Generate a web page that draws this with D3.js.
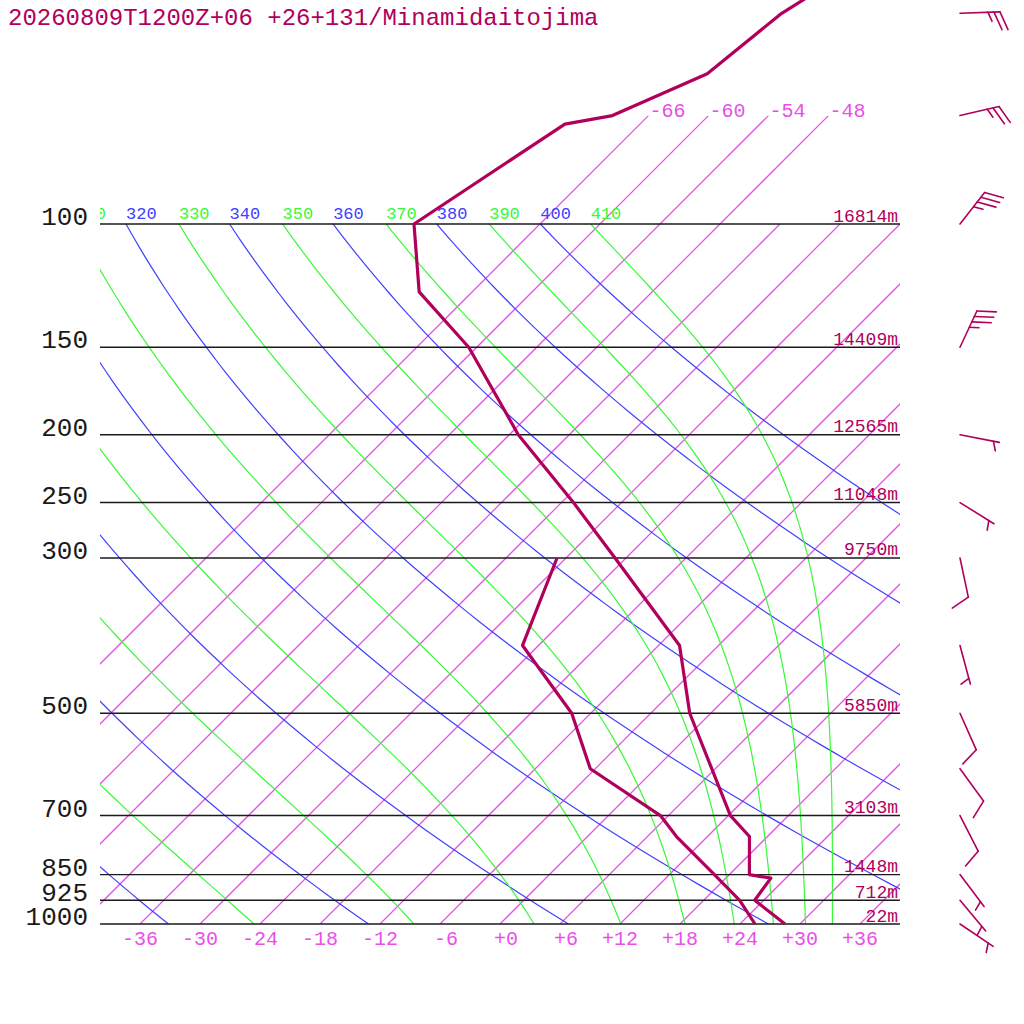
<!DOCTYPE html>
<html>
<head>
<meta charset="utf-8">
<script src="https://cdn.jsdelivr.net/npm/d3@7"></script>
<style>
  body { margin: 0; background: #fff; }
  svg { display: block; }
  text { font-family: "Liberation Mono", "DejaVu Sans Mono", monospace; }
</style>
</head>
<body>
<svg id="chart" width="1024" height="1024"></svg>
<script>
const title = "20260809T1200Z+06 +26+131/Minamidaitojima";

const tempLevels = [1000, 925, 860, 850, 750, 700, 500, 400, 300, 250, 200, 150, 125, 100, 72, 70, 61, 50, 40];
const temps      = [28.5, 23.1, 22.5, 20.0, 16.2, 12.2, -2.1, -9.9, -25.1, -34.8, -47.1, -60.8, -71.3, -78.6, -73.5, -69.6, -64.3, -62.9, -58.8];

const dewLevels  = [1000, 925, 850, 750, 700, 600, 500, 400, 300];
const dewpoints  = [25.5, 21.6, 16.5, 8.9, 5.2, -6.5, -13.9, -25.6, -30.9];

const isobars    = [1000, 925, 850, 700, 500, 300, 250, 200, 150, 100];
const heights    = ["22m", "712m", "1448m", "3103m", "5850m", "9750m", "11048m", "12565m", "14409m", "16814m"];

const isotherms     = [-66, -60, -54, -48, -42, -36, -30, -24, -18, -12, -6, 0, 6, 12, 18, 24, 30, 36];
const topIsotherms  = [-66, -60, -54, -48];
const bottomTicks   = [-36, -30, -24, -18, -12, -6, 0, 6, 12, 18, 24, 30, 36];

const dryThetas   = [240, 260, 280, 300, 320, 340, 360, 380, 400];
const moistThetas = [250, 270, 290, 310, 330, 350, 370, 390, 410];

const windLevels = [50, 70, 100, 150, 200, 250, 300, 400, 500, 600, 700, 850, 925, 1000];
const windDirs   = [88, 77, 38, 25, 101, 122, 168, 165, 156, 144, 153, 143, 140, 124];
const windSpeeds = [25, 25, 35, 35, 5, 5, 10, 5, 10, 10, 10, 5, 5, 5];

// ---- colours ----
const profileColor = "#b0005c";
const isoColor = "#e850e8";
const blue = "#4040ff";
const green = "#38f838";

const svg = d3.select("#chart");

// log-pressure vertical scale, 45 degree skewed temperature
const yP = d3.scaleLog().domain([1000, 100]).range([924, 224]);
const xT = d3.scaleLinear().domain([-40, 40]).range([100, 900]);
const skewX = (t, p) => xT(t) + (yP(1000) - yP(p));

const defs = svg.append("defs");
defs.append("clipPath").attr("id", "plot")
  .append("rect").attr("x", 100).attr("y", yP(100)).attr("width", 800).attr("height", yP(1000) - yP(100));
defs.append("clipPath").attr("id", "plotTop")
  .append("rect").attr("x", 100).attr("y", yP(70)).attr("width", 800).attr("height", yP(1000) - yP(70));
defs.append("clipPath").attr("id", "labelClip")
  .append("rect").attr("x", 100).attr("y", 180).attr("width", 924).attr("height", 50);

// pressure samples for curved lines
const pSamples = d3.range(0, 91).map(i => 1000 * Math.pow(0.1, i / 90));

const lineGen = d3.line().x(d => d[0]).y(d => d[1]);

// dry adiabat temperature
function dryT(theta, p) {
  return theta * Math.pow(p / 1000, 0.2857) - 273.15;
}

// Bolton equivalent potential temperature for saturated air
function thetaE(tc, p) {
  const tk = tc + 273.15;
  const es = 6.112 * Math.exp(17.67 * tc / (tc + 243.5));
  if (es >= p) return 1e9;
  const r = 622 * es / (p - es);
  return tk * Math.pow(1000 / p, 0.2854 * (1 - 0.00028 * r)) *
    Math.exp((3.376 / tk - 0.00254) * r * (1 + 0.00081 * r));
}

function moistT(te, p) {
  let lo = -150, hi = 45;
  for (let i = 0; i < 50; i++) {
    const mid = (lo + hi) / 2;
    if (thetaE(mid, p) > te) hi = mid; else lo = mid;
  }
  return (lo + hi) / 2;
}

// ---- isotherms (top end at 100 hPa, labelled ones up to 70 hPa) ----
const isoTop = t => topIsotherms.includes(t) ? 70 : 100;
svg.append("g")
  .selectAll("line")
  .data(isotherms)
  .enter().append("line")
  .attr("clip-path", t => topIsotherms.includes(t) ? "url(#plotTop)" : "url(#plot)")
  .attr("x1", t => skewX(t, 1000)).attr("y1", yP(1000))
  .attr("x2", t => skewX(t, isoTop(t))).attr("y2", t => yP(isoTop(t)))
  .attr("stroke", isoColor)
  .attr("stroke-width", 1.25);

// ---- dry adiabats ----
svg.append("g").attr("clip-path", "url(#plot)")
  .selectAll("path")
  .data(dryThetas)
  .enter().append("path")
  .attr("fill", "none")
  .attr("stroke", blue)
  .attr("stroke-width", 1.2)
  .attr("d", th => lineGen(pSamples.map(p => [skewX(dryT(th, p), p), yP(p)])));

// ---- moist adiabats ----
svg.append("g").attr("clip-path", "url(#plot)")
  .selectAll("path")
  .data(moistThetas)
  .enter().append("path")
  .attr("fill", "none")
  .attr("stroke", green)
  .attr("stroke-width", 1.2)
  .attr("d", te => lineGen(pSamples.map(p => [skewX(moistT(te, p), p), yP(p)])));

// adiabat labels along 100 hPa (only those reaching into the plot)
const gLab = svg.append("g").attr("clip-path", "url(#labelClip)")
  .attr("font-size", 17);
dryThetas.forEach(th => {
  const x = skewX(dryT(th, 100), 100);
  if (x < 70) return;
  gLab.append("text").attr("x", x).attr("y", yP(100) - 5.5)
    .attr("fill", blue).text(th);
});
moistThetas.forEach(te => {
  const x = skewX(moistT(te, 100), 100);
  if (x < 70) return;
  gLab.append("text").attr("x", x).attr("y", yP(100) - 5.5)
    .attr("fill", green).text(te);
});

// ---- isobars ----
svg.append("g").selectAll("line")
  .data(isobars)
  .enter().append("line")
  .attr("x1", 100).attr("x2", 900)
  .attr("y1", p => yP(p)).attr("y2", p => yP(p))
  .attr("stroke", "#1a1a1a").attr("stroke-width", 1.4);

const gP = svg.append("g");
gP.selectAll("text.plab")
  .data(isobars)
  .enter().append("text")
  .attr("class", "plab")
  .attr("x", 88).attr("y", p => yP(p) + 1)
  .attr("text-anchor", "end")
  .attr("font-size", 26)
  .attr("fill", "#1a1a1a")
  .text(p => p);

gP.selectAll("text.hlab")
  .data(isobars)
  .enter().append("text")
  .attr("class", "hlab")
  .attr("x", 898).attr("y", p => yP(p) - 2.5)
  .attr("text-anchor", "end")
  .attr("font-size", 18)
  .attr("fill", profileColor)
  .text((p, i) => heights[i]);

// bottom temperature labels (right aligned like three-character labels)
svg.append("g").selectAll("text")
  .data(bottomTicks)
  .enter().append("text")
  .attr("x", t => xT(t) + 18).attr("y", 945)
  .attr("text-anchor", "end")
  .attr("font-size", 20)
  .attr("fill", isoColor)
  .text(t => (t >= 0 ? "+" : "") + t);

// top isotherm labels
svg.append("g").selectAll("text")
  .data(topIsotherms)
  .enter().append("text")
  .attr("x", t => skewX(t, 70) + 1).attr("y", yP(70) + 1.5)
  .attr("font-size", 20)
  .attr("fill", isoColor)
  .text(t => t);

// ---- profiles ----
svg.append("path")
  .attr("fill", "none").attr("stroke", profileColor).attr("stroke-width", 3.2)
  .attr("stroke-linejoin", "round")
  .attr("d", lineGen(tempLevels.map((p, i) => [skewX(temps[i], p), yP(p)])));

svg.append("path")
  .attr("fill", "none").attr("stroke", profileColor).attr("stroke-width", 3.2)
  .attr("stroke-linejoin", "round")
  .attr("d", lineGen(dewLevels.map((p, i) => [skewX(dewpoints[i], p), yP(p)])));

// ---- wind barbs ----
const gW = svg.append("g").attr("stroke", profileColor).attr("stroke-width", 1.6)
  .attr("fill", "none").attr("stroke-linecap", "round");
const staffLen = 40, barbLen = 19.5, barbGap = 6;
windLevels.forEach((p, i) => {
  const bx = 960, by = yP(p);
  const a = windDirs[i] * Math.PI / 180;
  const ux = Math.sin(a), uy = -Math.cos(a);
  const px = -uy, py = ux; // right-hand side of the staff
  const tipX = bx + ux * staffLen, tipY = by + uy * staffLen;
  gW.append("line").attr("x1", bx).attr("y1", by).attr("x2", tipX).attr("y2", tipY);
  const spd = windSpeeds[i];
  let pos = staffLen;
  const full = Math.floor(spd / 10);
  const half = (spd % 10) >= 5 ? 1 : 0;
  if (full === 0 && half) pos -= barbGap;
  const drawBarb = (len) => {
    const sx = bx + ux * pos, sy = by + uy * pos;
    const ex = sx + len * (0.92 * px + 0.38 * ux);
    const ey = sy + len * (0.92 * py + 0.38 * uy);
    gW.append("line").attr("x1", sx).attr("y1", sy).attr("x2", ex).attr("y2", ey);
    pos -= barbGap;
  };
  for (let k = 0; k < full; k++) drawBarb(barbLen);
  if (half) drawBarb(barbLen / 2);
});

// ---- title ----
svg.append("text")
  .attr("x", 8).attr("y", 25)
  .attr("font-size", 24)
  .attr("fill", profileColor)
  .text(title);
</script>
</body>
</html>
